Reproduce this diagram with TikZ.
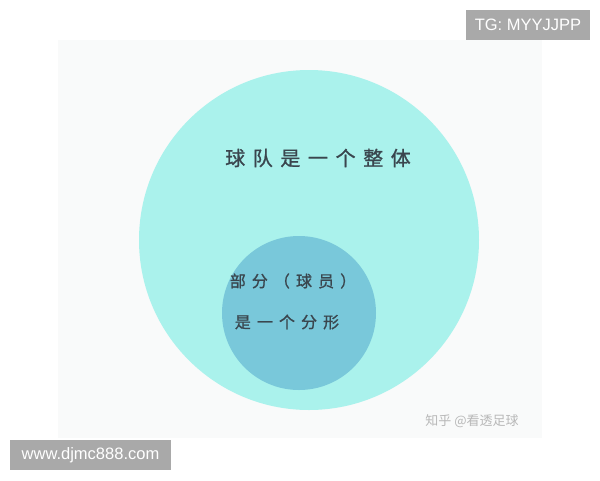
\documentclass[tikz,border=0pt]{standalone}
\usepackage{fontspec}
\newfontfamily\latin{Liberation Sans}
\newfontfamily\cjk[LetterSpace=38, FakeBold=1.1]{Noto Sans CJK SC}
\newfontfamily\cjkmark{Noto Sans CJK SC}
\definecolor{paper}{HTML}{F9FAFA}
\definecolor{whole}{HTML}{AAF2EC}
\definecolor{part}{HTML}{79C8DA}
\definecolor{ink}{HTML}{3A464E}
\definecolor{tagGray}{HTML}{A9A9A9}
\definecolor{markGray}{HTML}{B8B8B8}

\begin{document}
\begin{tikzpicture}[x=1pt, y=-1pt,
    disc/.style={circle, inner sep=0pt, draw=none},
    bigtext/.style={text=ink, font=\cjk\fontsize{20}{20}\selectfont},
    smalltext/.style={text=ink, font=\cjk\fontsize{16}{16}\selectfont},
    tag/.style={fill=tagGray, text=white, inner sep=0pt, minimum height=30pt,
        font=\latin\fontsize{16.5}{16.5}\selectfont}]
    \useasboundingbox (0,0) rectangle (600,480);
    \fill[white] (0,0) rectangle (600,480);
    \fill[paper] (58,40) rectangle (542,438);
    % circles
    \node[disc, fill=whole, minimum size=340pt] (team) at (309,240) {};
    \node[disc, fill=part, minimum size=154pt] (player) at (299,313) {};
    % texts
    \node[bigtext] (teamtext) at (318,158) {球队是一个整体};
    \node[smalltext] (parttop) at (293,281) {部分（球员）};
    \node[smalltext] (partbottom) at (287,322) {是一个分形};
    \node[text=markGray, font=\cjkmark\fontsize{13}{13}\selectfont] (mark) at (472,421) {知乎 @看透足球};
    % tags
    \node[tag, minimum width=124pt] (tg) at (528,25) {TG: MYYJJPP};
    \node[tag, minimum width=161pt] (site) at (90.5,455) {www.djmc888.com};
\end{tikzpicture}
\end{document}
